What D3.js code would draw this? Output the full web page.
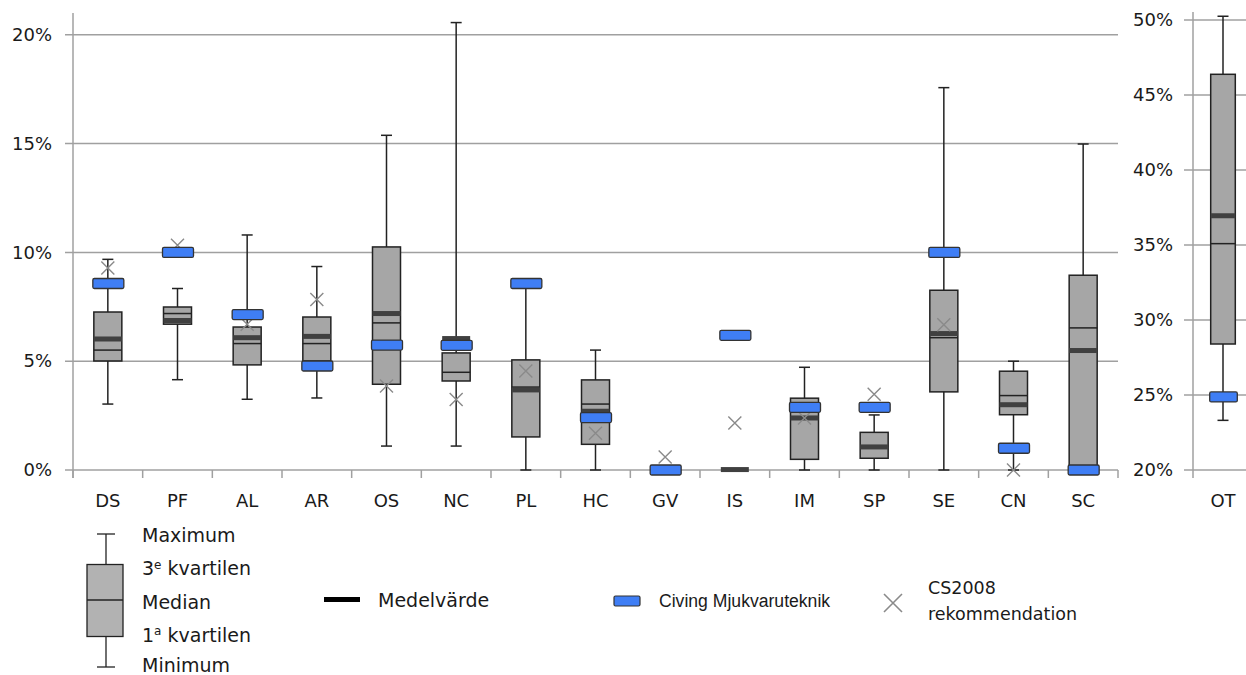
<!DOCTYPE html>
<html>
<head>
<meta charset="utf-8">
<script src="https://cdn.jsdelivr.net/npm/d3@7"></script>
<style>
  body { margin: 0; background: #fff; }
  svg { display: block; font-family: 'DejaVu Sans', sans-serif; }
</style>
</head>
<body>
<div id="chart"></div>
<script>
// values in percent
var categories = ['DS','PF','AL','AR','OS','NC','PL','HC','GV','IS','IM','SP','SE','CN','SC'];
var maxVals    = [9.68, 8.34, 10.8, 9.35, 15.38, 20.56, 8.5, 5.51, 0, 0, 4.72, 2.53, 17.57, 5.0, 14.98];
var q3Vals     = [7.26, 7.49, 6.57, 7.03, 10.25, 5.38, 5.06, 4.14, 0, 0, 3.30, 1.73, 8.26, 4.54, 8.95];
var medianVals = [5.51, 7.19, 5.81, 5.81, 6.76, 4.49, 3.81, 3.03, 0, 0, 2.45, 1.10, 6.08, 3.42, 6.53];
var meanVals   = [6.02, 6.87, 6.08, 6.14, 7.19, 6.04, 3.68, 2.70, 0, 0.02, 2.39, 1.06, 6.27, 3.00, 5.49];
var q1Vals     = [5.01, 6.70, 4.83, 5.01, 3.94, 4.09, 1.52, 1.18, 0, 0, 0.49, 0.54, 3.59, 2.54, 0];
var minVals    = [3.03, 4.15, 3.25, 3.31, 1.10, 1.10, 0, 0, 0, 0, 0, 0, 0, 0, 0];
var civingVals = [8.57, 10.0, 7.14, 4.78, 5.74, 5.73, 8.57, 2.41, 0, 6.19, 2.88, 2.88, 10.0, 1.0, 0];
var csVals     = [9.28, 10.33, 6.70, 7.83, 3.86, 3.24, 4.55, 1.69, 0.60, 2.16, 2.39, 3.48, 6.68, 0, null];

// OT on its own scale
var otCategory = ['OT'];
var otStats = [{max: 50.25, q3: 46.38, median: 35.09, mean: 36.95, q1: 28.40, min: 23.31, civing: 24.87}];

var leftTicks = [0, 5, 10, 15, 20];
var rightTicks = [20, 25, 30, 35, 40, 45, 50];

var width = 1246, height = 675;
var svg = d3.select('#chart').append('svg').attr('width', width).attr('height', height);

var gridCol = '#a0a0a0', lineCol = '#222', boxFill = '#a6a6a6', meanCol = '#404040', blue = '#3f7ef5';

var x = d3.scaleBand().domain(categories).range([73, 1118]);
var y = d3.scaleLinear().domain([0, 21]).range([470, 13]);
var x2 = d3.scaleBand().domain(otCategory).range([1193, 1253]);
var y2 = d3.scaleLinear().domain([20, 50.5]).range([470, 12.5]);

// gridlines + left axis
var gl = svg.append('g');
gl.selectAll('line.grid').data(leftTicks).enter().append('line')
  .attr('x1', 65).attr('x2', 1118)
  .attr('y1', d => y(d)).attr('y2', d => y(d))
  .attr('stroke', gridCol).attr('stroke-width', 1.5);
gl.append('line').attr('x1', 73).attr('x2', 73).attr('y1', 13).attr('y2', 478)
  .attr('stroke', gridCol).attr('stroke-width', 1.5);
var bounds = categories.map(c => x(c)).concat([x.range()[1]]);
gl.selectAll('line.xt').data(bounds).enter().append('line')
  .attr('x1', d => d).attr('x2', d => d).attr('y1', 470).attr('y2', 478)
  .attr('stroke', gridCol).attr('stroke-width', 1.5);
gl.selectAll('text.yl').data(leftTicks).enter().append('text')
  .attr('x', 52).attr('y', d => y(d)).attr('dy', '0.35em')
  .attr('text-anchor', 'end').attr('font-size', 18).attr('fill', '#1a1a1a')
  .text(d => d + '%');
gl.selectAll('text.xl').data(categories).enter().append('text')
  .attr('x', d => x(d) + x.bandwidth() / 2).attr('y', 507)
  .attr('text-anchor', 'middle').attr('font-size', 18).attr('fill', '#1a1a1a')
  .text(d => d);

// right axis
var gr = svg.append('g');
gr.selectAll('line').data(rightTicks).enter().append('line')
  .attr('x1', 1184).attr('x2', 1253)
  .attr('y1', d => y2(d)).attr('y2', d => y2(d))
  .attr('stroke', gridCol).attr('stroke-width', 1.5);
gr.append('line').attr('x1', 1193).attr('x2', 1193).attr('y1', 12).attr('y2', 478)
  .attr('stroke', gridCol).attr('stroke-width', 1.5);
gr.selectAll('text.yl').data(rightTicks).enter().append('text')
  .attr('x', 1173).attr('y', d => y2(d)).attr('dy', '0.35em')
  .attr('text-anchor', 'end').attr('font-size', 18).attr('fill', '#1a1a1a')
  .text(d => d + '%');
gr.append('text').attr('x', x2('OT') + x2.bandwidth() / 2).attr('y', 507)
  .attr('text-anchor', 'middle').attr('font-size', 18).attr('fill', '#1a1a1a').text('OT');

function drawBox(g, cx, bw, s, ys) {
  var capW = 11;
  if (s.max > s.min) {
    g.append('line').attr('x1', cx).attr('x2', cx).attr('y1', ys(s.max)).attr('y2', ys(s.min))
      .attr('stroke', lineCol).attr('stroke-width', 1.5);
    [s.max, s.min].forEach(v => {
      g.append('line').attr('x1', cx - capW / 2).attr('x2', cx + capW / 2)
        .attr('y1', ys(v)).attr('y2', ys(v)).attr('stroke', lineCol).attr('stroke-width', 1.5);
    });
  }
  if (s.q3 > s.q1) {
    g.append('rect').attr('x', cx - bw / 2).attr('y', ys(s.q3)).attr('width', bw)
      .attr('height', ys(s.q1) - ys(s.q3)).attr('fill', boxFill)
      .attr('stroke', lineCol).attr('stroke-width', 1.5);
    g.append('line').attr('x1', cx - bw / 2).attr('x2', cx + bw / 2)
      .attr('y1', ys(s.median)).attr('y2', ys(s.median))
      .attr('stroke', lineCol).attr('stroke-width', 1.5);
  }
  g.append('rect').attr('x', cx - bw / 2).attr('y', ys(s.mean) - 2.5).attr('width', bw)
    .attr('height', 5).attr('fill', meanCol);
  if (s.cs != null) {
    var px = cx, py = ys(s.cs), r = 6.5;
    g.append('path').attr('d', `M${px - r},${py - r}L${px + r},${py + r}M${px - r},${py + r}L${px + r},${py - r}`)
      .attr('stroke', '#8a8a8a').attr('stroke-width', 1.4).attr('fill', 'none');
  }
  g.append('rect').attr('x', cx - bw / 2 - 1).attr('y', ys(s.civing) - 5).attr('width', bw + 3)
    .attr('height', 10).attr('rx', 1.5).attr('fill', blue)
    .attr('stroke', '#333').attr('stroke-width', 1.3);
}

var boxes = svg.append('g');
categories.forEach((c, i) => {
  var g = boxes.append('g');
  drawBox(g, x(c) + x.bandwidth() / 2, 28, {
    max: maxVals[i], q3: q3Vals[i], median: medianVals[i], mean: meanVals[i],
    q1: q1Vals[i], min: minVals[i], civing: civingVals[i], cs: csVals[i]
  }, y);
});
otStats.forEach((s, i) => {
  drawBox(boxes.append('g'), x2(otCategory[i]) + x2.bandwidth() / 2, 24.6,
    Object.assign({cs: null}, s), y2);
});

// legend
var lg = svg.append('g');
lg.append('line').attr('x1', 106).attr('x2', 106).attr('y1', 534).attr('y2', 667).attr('stroke', lineCol).attr('stroke-width', 1.3);
[534, 667].forEach(v => lg.append('line').attr('x1', 97).attr('x2', 115).attr('y1', v).attr('y2', v).attr('stroke', lineCol).attr('stroke-width', 1.3));
lg.append('rect').attr('x', 87).attr('y', 564.5).attr('width', 36).attr('height', 72)
  .attr('fill', '#b2b2b2').attr('stroke', lineCol).attr('stroke-width', 1.3);
lg.append('line').attr('x1', 87).attr('x2', 123).attr('y1', 600).attr('y2', 600).attr('stroke', lineCol).attr('stroke-width', 1.3);

var legLabels = [['Maximum', null], ['3', 'e'], ['Median', null], ['1', 'a'], ['Minimum', null]];
var legY = [535, 568.5, 602, 635, 665.5];
legLabels.forEach((d, i) => {
  var t = lg.append('text').attr('x', 142).attr('y', legY[i]).attr('dy', '0.35em')
    .attr('font-size', 19).attr('fill', '#1a1a1a');
  t.append('tspan').text(d[0]);
  if (d[1]) {
    t.append('tspan').attr('font-size', 12).attr('dy', '-0.55em').text(d[1]);
    t.append('tspan').attr('dy', '0.35em').text(' kvartilen');
  }
});

lg.append('rect').attr('x', 324).attr('y', 597).attr('width', 36).attr('height', 5).attr('fill', '#000');
lg.append('text').attr('x', 378).attr('y', 600).attr('dy', '0.35em').attr('font-size', 19)
  .attr('fill', '#1a1a1a').text('Medelvärde');

lg.append('rect').attr('x', 614).attr('y', 596).attr('width', 26).attr('height', 10).attr('rx', 1.5)
  .attr('fill', blue).attr('stroke', '#333').attr('stroke-width', 1.2);
lg.append('text').attr('x', 659).attr('y', 601).attr('dy', '0.35em')
  .attr('font-family', "'Liberation Sans', Arial, sans-serif").attr('font-size', 17.6)
  .attr('fill', '#1a1a1a').text('Civing Mjukvaruteknik');

lg.append('path').attr('d', 'M884,594L902,612M884,612L902,594')
  .attr('stroke', '#8a8a8a').attr('stroke-width', 1.6).attr('fill', 'none');
lg.append('text').attr('x', 928).attr('y', 588).attr('dy', '0.35em').attr('font-size', 17.5)
  .attr('fill', '#1a1a1a').text('CS2008');
lg.append('text').attr('x', 928).attr('y', 614).attr('dy', '0.35em').attr('font-size', 17.5)
  .attr('fill', '#1a1a1a').text('rekommendation');
</script>
</body>
</html>
